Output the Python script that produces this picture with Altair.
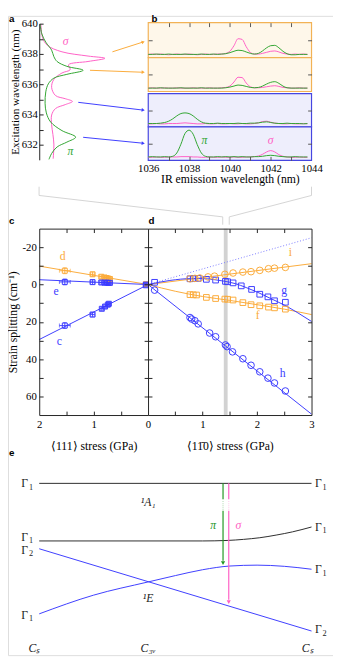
import math
import altair as alt
import pandas as pd

W, H, M = 333, 655, 8
SERIF = "Liberation Serif"
SANS = "Liberation Sans"
ORANGE = "#fbab3a"
BLUE = "#3c3cff"
PINK = "#ff5fc5"
GREEN = "#2fa52f"
DKGREEN = "#1f961f"
INK = "#222222"
ZOOMGRAY = "#d4d4d4"

# ---------------- panel a : excitation spectra ----------------
A_PINK_I = [1.7, 3.3, 8.3, 23.3, 50, 67.3, 50, 30, 31.7, 23.3, 15, 12.7, 16.7, 26.7, 34, 26.7, 16.7, 12.7, 12.7, 14, 15, 14.3]
A_PINK_L = [639.96, 639.10, 638.57, 638.14, 637.86, 637.71, 637.50, 637.28, 636.96, 636.74, 636.32, 635.79,
            635.25, 635.04, 634.86, 634.65, 634.39, 633.96, 633.32, 632.68, 632.04, 631.07]
A_GREEN_I = [1, 2.7, 6.7, 12.7, 15, 18.3, 28.3, 45, 28.3, 15, 9.3, 6.7, 6, 7.3, 11.7, 23.3, 37.3, 28.3, 18.3, 12.7, 10]
A_GREEN_L = [639.96, 639.32, 638.78, 638.25, 637.82, 637.50, 637.18, 636.92, 636.65, 636.40, 636.02, 635.49,
             634.74, 634.10, 633.50, 632.93, 632.50, 632.17, 631.85, 631.42, 631.03]
A_ARROW_I0 = [75, 52, 40, 45]
A_ARROW_L0 = [638.14, 636.92, 634.80, 632.49]
A_ARROW_I1 = [106, 106, 106, 106]
A_ARROW_L1 = [638.78, 636.79, 634.29, 632.10]
A_ARROW_COL = [ORANGE, ORANGE, BLUE, BLUE]

# ---------------- panel b : IR emission spectra ----------------
B_X = [1036.0, 1036.2, 1036.4, 1036.6, 1036.8, 1037.0, 1037.2, 1037.4, 1037.6, 1037.8,
       1038.0, 1038.2, 1038.4, 1038.6, 1038.8, 1039.0, 1039.2, 1039.4, 1039.6, 1039.8,
       1040.0, 1040.2, 1040.4, 1040.6, 1040.8, 1041.0, 1041.2, 1041.4, 1041.6, 1041.8,
       1042.0, 1042.2, 1042.4, 1042.6, 1042.8, 1043.0, 1043.2, 1043.4, 1043.6, 1043.8]
B1_PINK = [0.09, 0.10, 0.09, 0.10, 0.09, 0.08, 0.09, 0.10, 0.09, 0.09, 0.10, 0.09, 0.08, 0.09, 0.10, 0.09, 0.09, 0.10, 0.10,
           0.12, 0.18, 0.34, 0.54, 0.52, 0.31, 0.15, 0.10, 0.10, 0.12, 0.15, 0.18, 0.19, 0.16, 0.12, 0.10, 0.09, 0.10, 0.09, 0.10, 0.09]
B1_GREEN = [0.09, 0.09, 0.10, 0.09, 0.09, 0.10, 0.09, 0.09, 0.09, 0.10, 0.09, 0.09, 0.09, 0.10, 0.09, 0.09, 0.10, 0.09, 0.10,
            0.11, 0.14, 0.18, 0.21, 0.20, 0.16, 0.12, 0.10, 0.12, 0.19, 0.28, 0.34, 0.35, 0.28, 0.18, 0.11, 0.08, 0.08, 0.09, 0.09, 0.09]
B2_PINK = [0.10, 0.11, 0.10, 0.10, 0.11, 0.10, 0.10, 0.11, 0.10, 0.10, 0.10, 0.11, 0.10, 0.10, 0.10, 0.11, 0.10, 0.10, 0.11,
           0.12, 0.16, 0.28, 0.42, 0.41, 0.25, 0.14, 0.11, 0.11, 0.12, 0.14, 0.16, 0.17, 0.15, 0.12, 0.11, 0.10, 0.10, 0.11, 0.10, 0.10]
B2_GREEN = [0.10, 0.10, 0.10, 0.11, 0.10, 0.10, 0.10, 0.10, 0.11, 0.10, 0.10, 0.10, 0.10, 0.11, 0.10, 0.10, 0.10, 0.10, 0.10,
            0.11, 0.13, 0.16, 0.19, 0.18, 0.15, 0.12, 0.11, 0.12, 0.16, 0.22, 0.27, 0.29, 0.24, 0.16, 0.11, 0.10, 0.10, 0.10, 0.10, 0.10]
B3_PINK = [0.09, 0.09, 0.10, 0.09, 0.09, 0.10, 0.10, 0.10, 0.11, 0.12, 0.11, 0.10, 0.09, 0.09, 0.10, 0.09, 0.09, 0.10, 0.09, 0.09,
           0.10, 0.09, 0.09, 0.10, 0.09, 0.09, 0.10, 0.12, 0.16, 0.17, 0.14, 0.11, 0.10, 0.09, 0.09, 0.10, 0.09, 0.09, 0.10, 0.09]
B3_GREEN = [0.10, 0.10, 0.10, 0.11, 0.13, 0.17, 0.24, 0.33, 0.40, 0.42, 0.40, 0.33, 0.23, 0.15, 0.11,
            0.10, 0.10, 0.11, 0.10, 0.10, 0.10, 0.10, 0.11, 0.10, 0.10, 0.11, 0.11, 0.12, 0.14, 0.15,
            0.13, 0.11, 0.10, 0.10, 0.11, 0.10, 0.10, 0.10, 0.09, 0.10]
B4_PINK = [0.09, 0.09, 0.10, 0.09, 0.09, 0.10, 0.10, 0.10, 0.11, 0.11, 0.11, 0.10, 0.10, 0.09, 0.09, 0.10, 0.09, 0.09, 0.10, 0.09,
           0.09, 0.10, 0.09, 0.09, 0.10, 0.10, 0.11, 0.13, 0.18, 0.25, 0.29, 0.25, 0.17, 0.12, 0.10, 0.09, 0.09, 0.10, 0.09, 0.09]
B4_GREEN = [0.10, 0.11, 0.10, 0.10, 0.11, 0.10, 0.12, 0.22, 0.48, 0.80, 0.90, 0.78, 0.47, 0.22, 0.12, 0.10,
            0.10, 0.11, 0.10, 0.11, 0.10, 0.11, 0.10, 0.11, 0.10, 0.10, 0.11, 0.11, 0.12, 0.14, 0.15, 0.14, 0.12,
            0.11, 0.10, 0.10, 0.11, 0.10, 0.10, 0.10]

# ---------------- panel c : <111> stress ----------------
C_X = [1.53, 1.02, 0.86, 0.80, 0.76, 0.73, 0.70, 0.04]
C_XERR = [0.10, 0.04, 0.03, 0.03, 0.03, 0.03, 0.03, 0.02]
C_YERR = [1.6, 1.2, 1.0, 1.0, 1.0, 1.0, 1.0, 0.8]
C_D_Y = [-7.4, -5.5, -4.2, -3.8, -3.5, -3.2, -3.0, -0.2]
C_E_Y = [-1.4, -1.3, -1.1, -1.0, -1.0, -0.9, -0.9, 0.0]
C_C_X = [1.53, 1.02, 0.85, 0.79, 0.74, 0.72, 0.04]
C_C_Y = [22.0, 16.1, 13.0, 11.8, 10.8, 10.3, 0.4]
C_C_XERR = [0.10, 0.04, 0.03, 0.03, 0.03, 0.03, 0.02]
C_C_YERR = [1.6, 1.2, 1.0, 1.0, 1.0, 1.0, 0.8]
C_FIT_S = [0, 2]
C_FIT_D = [0, -9.9]
C_FIT_E = [0, -2.6]
C_FIT_C = [0, 29.5]

# ---------------- panel d : <1-10> stress ----------------
D_I_X = [0.77, 0.86, 0.95, 1.10, 1.22, 1.41, 1.56, 1.74, 1.89, 2.05, 2.21, 2.32, 2.52]
D_I_Y = [-3.1, -3.3, -3.5, -4.1, -4.5, -5.5, -6.2, -6.7, -6.9, -7.6, -8.5, -8.8, -9.2]
D_G_X = [0.12, 0.77, 0.83, 0.92, 1.07, 1.24, 1.42, 1.46, 1.56, 1.71, 1.90, 2.05, 2.20, 2.32, 2.52]
D_G_Y = [-1.2, -3.1, -3.2, -3.3, -2.8, -2.4, -1.7, -1.5, -0.9, 0.7, 2.6, 5.2, 6.6, 8.7, 9.5]
D_F_X = [0.77, 0.83, 0.89, 1.07, 1.24, 1.41, 1.46, 1.56, 1.74, 1.89, 2.05, 2.21, 2.32, 2.52]
D_F_Y = [5.4, 5.5, 5.6, 6.9, 7.5, 7.8, 7.9, 8.3, 9.7, 10.8, 11.4, 12.1, 12.5, 13.2]
D_H_X = [0.12, 0.77, 0.80, 0.86, 0.92, 1.13, 1.24, 1.42, 1.45, 1.55, 1.74, 1.89, 2.05, 2.20, 2.32, 2.52]
D_H_Y = [3.0, 17.7, 18.5, 19.4, 21.1, 26.0, 28.0, 32.4, 33.3, 36.1, 39.8, 43.3, 46.8, 50.2, 52.8, 57.1]
D_FIT_I_S = [0, 3]
D_FIT_I = [0, -11.2]
D_DOT_S = [0, 3]
D_DOT = [0, -25.1]
D_FIT_F_S = [0, 0.5, 1, 1.5, 2, 2.5, 3]
D_FIT_F = [0, 3.6, 6.4, 8.5, 10.8, 13.2, 16.1]
D_FIT_G_S = [0, 0.4, 0.8, 1.0, 1.2, 1.4, 1.6, 1.8, 2.0, 2.25, 2.5, 2.75, 3.0]
D_FIT_G = [0, -2.2, -3.2, -3.2, -2.7, -1.8, -0.5, 1.6, 4.0, 7.5, 11.0, 15.2, 19.8]
D_FIT_H_S = [0, 3]
D_FIT_H = [0, 69.5]
D_BAND = [1.39, 1.46]
D_ZOOM_L_S = [-2, -2, 1.37, 1.37]
D_ZOOM_R_S = [3, 3, 1.49, 1.49]
D_ZOOM_V = [-52.5, -47.8, -36.3, -32.1]

# ---------------- panel e : level diagram ----------------
E_TOP_S = [-2, 3]
E_TOP_E = [163, 163]
E_A1_S = [-2, 1.0, 1.45, 1.75, 2.05, 2.35, 2.65, 3.0]
E_A1_E = [104, 104, 104.5, 105.6, 107.3, 110, 113.3, 118.3]
E_G2_S = [-2, 3]
E_G2_E = [96, 11.7]
E_G1_S = [-2, -1, 0, 0.5, 1, 1.5, 2, 2.5, 3]
E_G1_E = [29.3, 48.5, 62, 68.5, 74.5, 78.3, 79.2, 78, 75]
E_ARROW_S = [1.375, 1.48]
E_ARROW_TOP = [163, 163]
E_ARROW_TIP = [78.3, 38.3]
E_ARROW_COL = [DKGREEN, PINK]
E_GAP = [147, 135]
E_GAMMA_SUB = ["1", "1", "2", "1", "1", "1", "1", "2"]
E_GAMMA_S = [-2.23, -2.23, -2.23, -2.23, 3.16, 3.16, 3.16, 3.16]
E_GAMMA_E = [163, 108, 95, 28.3, 163, 118.3, 75, 13.3]
E_ITAL_TEXT = ["¹A₁", "¹E", "Cₛ", "C₃ᵥ", "Cₛ", "π", "σ"]
E_ITAL_S = [0, 0, -2.09, 0, 2.93, 1.195, 1.656]
E_ITAL_E = [143.3, 45, -6, -6, -6, 120.7, 120.7]
E_ITAL_COL = [INK, INK, INK, INK, INK, DKGREEN, PINK]

# page mapping for panel e (page y = E_Y0 - E_K * energy)
E_Y0, E_K = 650.0, 1.0


# ---------------- helpers ----------------
def R(a, b):
    return [a - M, b - M]


def lin(domain, rng):
    return alt.Scale(domain=domain, range=rng, nice=False, zero=False)


def pos(xf, yf, xs, ys, xaxis=None, yaxis=None):
    return dict(x=alt.X(f"{xf}:Q", scale=xs, axis=xaxis), y=alt.Y(f"{yf}:Q", scale=ys, axis=yaxis))


BASE_AX = dict(grid=False, zindex=3, domainColor=INK, tickColor=INK, domainWidth=1, tickWidth=1,
               labelColor="black", labelFont=SERIF, labelFontSize=11, labelOverlap=False, labelFlush=False,
               labelExpr="datum.value",
               titleFont=SERIF, titleFontSize=12, titleFontWeight="normal", titleColor="black")


def axis(orient, at, **kw):
    p = at - M
    off = {"left": -p, "right": p - W, "top": -p, "bottom": p - H}[orient]
    d = dict(BASE_AX, orient=orient, offset=off, labels=False, domain=False, ticks=True, tickSize=4, title=None)
    d.update(kw)
    return alt.Axis(**d)


def axes_layer(xs, ys, xdom, ydom, xaxis=None, yaxis=None):
    df = pd.DataFrame({"x": xdom, "y": ydom})
    return alt.Chart(df).mark_point(opacity=0, size=1).encode(**pos("x", "y", xs, ys, xaxis, yaxis))


def text_layer(df, xs, ys, size=12, style="normal", font=SERIF, weight="normal", align="center", dx=0, dy=0):
    return alt.Chart(df).mark_text(font=font, fontSize=size, fontStyle=style, fontWeight=weight,
                                   align=align, baseline="middle", dx=dx, dy=dy).encode(
        **pos("x", "y", xs, ys), text="t:N", color=alt.Color("c:N", scale=None))


def angle_of(dx_px, dy_px):
    return math.degrees(math.atan2(dx_px, -dy_px)) % 360


# ---------------- panel a ----------------
xa = lin([0, 100], R(40, 140))
ya = lin([631, 640], R(155.5, 16))
pxa, pya = 1.0, 15.5
a_pink = alt.Chart(pd.DataFrame({"i": A_PINK_I, "l": A_PINK_L, "k": list(range(len(A_PINK_I)))})).mark_line(
    color=PINK, strokeWidth=1, interpolate="catmull-rom").encode(**pos("i", "l", xa, ya), order="k:Q")
a_green = alt.Chart(pd.DataFrame({"i": A_GREEN_I, "l": A_GREEN_L, "k": list(range(len(A_GREEN_I)))})).mark_line(
    color=GREEN, strokeWidth=1, interpolate="catmull-rom").encode(**pos("i", "l", xa, ya), order="k:Q")
arr = pd.DataFrame({"x": A_ARROW_I0, "y": A_ARROW_L0, "x2": A_ARROW_I1, "y2": A_ARROW_L1, "c": A_ARROW_COL})
arr["ang"] = [angle_of((r.x2 - r.x) * pxa, -(r.y2 - r.y) * pya) for r in arr.itertuples()]
a_arrows = alt.Chart(arr).mark_rule(strokeWidth=1).encode(
    **pos("x", "y", xa, ya), x2="x2:Q", y2="y2:Q", color=alt.Color("c:N", scale=None))
a_heads = alt.Chart(arr).mark_point(shape="triangle", filled=True, size=14, opacity=1).encode(
    **pos("x2", "y2", xa, ya), angle=alt.Angle("ang:Q", scale=None), color=alt.Color("c:N", scale=None))
a_lab = text_layer(pd.DataFrame({"x": [27, 32], "y": [638.84, 631.61], "t": ["σ", "π"], "c": [PINK, GREEN]}),
                   xa, ya, size=12, style="italic")
a_letter = text_layer(pd.DataFrame({"x": [-31], "y": [640.3], "t": ["a"], "c": ["black"]}), xa, ya,
                      size=10, font=SANS, weight="bold", align="left")
a_ax1 = axes_layer(xa, ya, [0, 100], [631, 640], None,
                   axis("left", 40, values=[632, 634, 636, 638, 640], labels=True, domain=True, ticks=False,
                        tickSize=0, labelPadding=2, title="Excitation wavelength (nm)", titlePadding=1,
                        titleFontSize=11.5))
a_ax2 = axes_layer(xa, ya, [0, 100], [631, 640], None,
                   axis("right", 40, values=[632, 633, 634, 635, 636, 637, 638, 639, 640]))
panel_a = alt.layer(a_arrows, a_heads, a_pink, a_green, a_lab, a_letter, a_ax1, a_ax2).resolve_axis(
    x="independent", y="independent")


# ---------------- panel b ----------------
def b_panel(pink, green, top, bot, edge, fill, kind):
    xs = lin([1036, 1044], R(151.7, 319))
    ys = lin([0, 1], R(bot, top))
    frame = alt.Chart(pd.DataFrame({"x": [1036], "x2": [1044], "y": [0], "y2": [1]})).mark_rect(
        fill=fill, stroke=edge, strokeWidth=1.2).encode(**pos("x", "y", xs, ys), x2="x2:Q", y2="y2:Q")
    df = pd.DataFrame({"w": B_X, "p": pink, "g": green})
    lp = alt.Chart(df).mark_line(color=PINK, strokeWidth=1, interpolate="monotone").encode(**pos("w", "p", xs, ys))
    lg = alt.Chart(df).mark_line(color=GREEN, strokeWidth=1, interpolate="monotone").encode(**pos("w", "g", xs, ys))
    minor = [1037, 1038, 1039, 1040, 1041, 1042, 1043]
    xa1, xa2 = None, None
    if kind == "top":
        xa1 = axis("bottom", top, values=minor, tickColor="#555")
    if kind == "bottom":
        xa1 = axis("bottom", bot, values=[1036, 1038, 1040, 1042, 1044], labels=True, ticks=False, tickSize=0,
                   labelPadding=2, title="IR emission wavelength (nm)", titlePadding=1)
        xa2 = axis("top", bot, values=minor, tickColor="#555")
    ax1 = axes_layer(xs, ys, [1036, 1044], [0, 1], xa1, axis("right", 151.7, values=[0.5], tickColor="#555"))
    ax2 = axes_layer(xs, ys, [1036, 1044], [0, 1], xa2, axis("left", 319, values=[0.5], tickColor="#555"))
    layers = [frame, lp, lg]
    if kind == "top":
        layers.append(text_layer(pd.DataFrame({"x": [1036.16], "y": [1.11], "t": ["b"], "c": ["black"]}),
                                 xs, ys, size=10, font=SANS, weight="bold", align="left"))
    if kind == "bottom":
        layers.append(text_layer(pd.DataFrame({"x": [1038.75, 1042.0], "y": [0.6, 0.6], "t": ["π", "σ"],
                                               "c": [GREEN, PINK]}), xs, ys, size=12, style="italic"))
    layers += [ax1, ax2]
    return alt.layer(*layers).resolve_axis(x="independent", y="independent")


OR_EDGE, OR_FILL = "#f2b255", "#fef7ea"
BL_EDGE, BL_FILL = "#4646e0", "#eeeefc"
panel_b1 = b_panel(B1_PINK, B1_GREEN, 15, 50.7, OR_EDGE, OR_FILL, "top")
panel_b2 = b_panel(B2_PINK, B2_GREEN, 50.7, 85.5, OR_EDGE, OR_FILL, "mid")
panel_b3 = b_panel(B3_PINK, B3_GREEN, 87.7, 121.7, BL_EDGE, BL_FILL, "mid")
panel_b4 = b_panel(B4_PINK, B4_GREEN, 121.7, 156, BL_EDGE, BL_FILL, "bottom")

# ---------------- panels c & d shared ----------------
YCD = lin([-30, 70], R(226, 417))
Y_TICKS = [-20, -10, 0, 10, 20, 30, 40, 50, 60]


def err_table(x, y, xe, ye, color):
    df = pd.DataFrame({"x": x, "y": y, "xe": xe, "ye": ye})
    df["xlo"], df["xhi"] = df.x - df.xe, df.x + df.xe
    df["ylo"], df["yhi"] = df.y - df.ye, df.y + df.ye
    df["c"] = color
    return df


# ---------------- panel c ----------------
xc = lin([0, 2], R(151.5, 40))
cdf = pd.concat([
    err_table(C_X, C_D_Y, C_XERR, C_YERR, ORANGE),
    err_table(C_X, C_E_Y, C_XERR, C_YERR, BLUE),
    err_table(C_C_X, C_C_Y, C_C_XERR, C_C_YERR, BLUE),
], ignore_index=True)
c_fit = pd.DataFrame({
    "s": C_FIT_S * 3, "v": C_FIT_D + C_FIT_E + C_FIT_C,
    "id": ["d", "d", "e", "e", "c", "c"], "c": [ORANGE, ORANGE, BLUE, BLUE, BLUE, BLUE]})
c_lines = alt.Chart(c_fit).mark_line(strokeWidth=1).encode(
    **pos("s", "v", xc, YCD), detail="id:N", color=alt.Color("c:N", scale=None))
c_hbar = alt.Chart(cdf).mark_rule(strokeWidth=0.9).encode(
    **pos("xlo", "y", xc, YCD), x2="xhi:Q", color=alt.Color("c:N", scale=None))
c_vbar = alt.Chart(cdf).mark_rule(strokeWidth=0.9).encode(
    **pos("x", "ylo", xc, YCD), y2="yhi:Q", color=alt.Color("c:N", scale=None))
capv = pd.concat([cdf[["xlo", "y", "c"]].rename(columns={"xlo": "x"}),
                  cdf[["xhi", "y", "c"]].rename(columns={"xhi": "x"})], ignore_index=True)
caph = pd.concat([cdf[["x", "ylo", "c"]].rename(columns={"ylo": "y"}),
                  cdf[["x", "yhi", "c"]].rename(columns={"yhi": "y"})], ignore_index=True)
c_capv = alt.Chart(capv).mark_tick(orient="vertical", size=4, thickness=0.9).encode(
    **pos("x", "y", xc, YCD), color=alt.Color("c:N", scale=None))
c_caph = alt.Chart(caph).mark_tick(orient="horizontal", size=4, thickness=0.9).encode(
    **pos("x", "y", xc, YCD), color=alt.Color("c:N", scale=None))
c_pts = alt.Chart(cdf).mark_point(shape="square", filled=False, size=26, strokeWidth=1, opacity=1).encode(
    **pos("x", "y", xc, YCD), color=alt.Color("c:N", scale=None))
c_lab = text_layer(pd.DataFrame({"x": [1.57, 1.69, 1.63], "y": [-15.2, 3.5, 30.3], "t": ["d", "e", "c"],
                                 "c": [ORANGE, BLUE, BLUE]}), xc, YCD, size=12)
c_letter = text_layer(pd.DataFrame({"x": [2.555], "y": [-33.8], "t": ["c"], "c": ["black"]}), xc, YCD,
                      size=10, font=SANS, weight="bold", align="left")
c_ax1 = axes_layer(xc, YCD, [0, 2], [-30, 70],
                   axis("bottom", 417, values=[0, 1, 2], labels=True, domain=True, ticks=False, tickSize=0,
                        labelPadding=4, title="⟨111⟩ stress (GPa)", titlePadding=11),
                   axis("left", 40, values=[-20, 0, 20, 40, 60], labels=True, domain=True, ticks=False,
                        tickSize=0, labelPadding=3,
                        title="Strain splitting (cm⁻¹)", titlePadding=3))
c_ax2 = axes_layer(xc, YCD, [0, 2], [-30, 70],
                   axis("top", 417, values=[0.5, 1, 1.5]),
                   axis("right", 40, values=Y_TICKS))
c_ax3 = axes_layer(xc, YCD, [0, 2], [-30, 70],
                   axis("bottom", 226, values=[0.5, 1, 1.5], domain=True),
                   axis("left", 151.5, values=Y_TICKS, domain=True))
panel_c = alt.layer(c_lines, c_hbar, c_vbar, c_capv, c_caph, c_pts, c_lab, c_letter, c_ax1, c_ax2, c_ax3
                    ).resolve_axis(x="independent", y="independent")

# ---------------- panel d ----------------
xd = lin([0, 3], R(151.5, 319))
d_band = alt.Chart(pd.DataFrame({"x": [D_BAND[0]], "x2": [D_BAND[1]], "y": [-30], "y2": [70]})).mark_rect(
    fill="#d2d2d2").encode(**pos("x", "y", xd, YCD), x2="x2:Q", y2="y2:Q")
zoom_df = pd.DataFrame({"s": D_ZOOM_L_S + D_ZOOM_R_S, "v": D_ZOOM_V + D_ZOOM_V,
                        "id": ["L"] * 4 + ["R"] * 4, "k": [0, 1, 2, 3] * 2})
d_zoom = alt.Chart(zoom_df).mark_line(color=ZOOMGRAY, strokeWidth=1).encode(
    **pos("s", "v", xd, YCD), detail="id:N", order="k:Q")
d_fit = pd.DataFrame({
    "s": D_FIT_I_S + D_FIT_F_S + D_FIT_G_S + D_FIT_H_S,
    "v": D_FIT_I + D_FIT_F + D_FIT_G + D_FIT_H,
    "id": ["i"] * len(D_FIT_I_S) + ["f"] * len(D_FIT_F_S) + ["g"] * len(D_FIT_G_S) + ["h"] * len(D_FIT_H_S),
    "c": [ORANGE] * len(D_FIT_I_S) + [ORANGE] * len(D_FIT_F_S) + [BLUE] * len(D_FIT_G_S) + [BLUE] * len(D_FIT_H_S)})
d_lines = alt.Chart(d_fit).mark_line(strokeWidth=1, interpolate="monotone").encode(
    **pos("s", "v", xd, YCD), detail="id:N", color=alt.Color("c:N", scale=None))
d_dot = alt.Chart(pd.DataFrame({"s": D_DOT_S, "v": D_DOT})).mark_line(
    color="#7a7aff", strokeWidth=1, strokeDash=[1, 2]).encode(**pos("s", "v", xd, YCD))
sq = pd.DataFrame({"x": D_G_X + D_F_X, "y": D_G_Y + D_F_Y, "c": [BLUE] * len(D_G_X) + [ORANGE] * len(D_F_X)})
ci = pd.DataFrame({"x": D_I_X + D_H_X, "y": D_I_Y + D_H_Y, "c": [ORANGE] * len(D_I_X) + [BLUE] * len(D_H_X)})
d_sq = alt.Chart(sq).mark_point(shape="square", filled=False, size=34, strokeWidth=1, opacity=1).encode(
    **pos("x", "y", xd, YCD), color=alt.Color("c:N", scale=None))
d_ci = alt.Chart(ci).mark_point(shape="circle", filled=False, size=46, strokeWidth=1, opacity=1).encode(
    **pos("x", "y", xd, YCD), color=alt.Color("c:N", scale=None))
d_lab = text_layer(pd.DataFrame({"x": [2.61, 2.5, 2.01, 2.47], "y": [-17.3, 3.1, 16.5, 47.6],
                                 "t": ["i", "g", "f", "h"], "c": [ORANGE, BLUE, ORANGE, BLUE]}), xd, YCD, size=12)
d_letter = text_layer(pd.DataFrame({"x": [0.01], "y": [-33.8], "t": ["d"], "c": ["black"]}), xd, YCD,
                      size=10, font=SANS, weight="bold", align="left")
d_ax1 = axes_layer(xd, YCD, [0, 3], [-30, 70],
                   axis("bottom", 417, values=[1, 2, 3], labels=True, domain=True, ticks=False, tickSize=0,
                        labelPadding=4, title="⟨11̄0⟩ stress (GPa)", titlePadding=11),
                   axis("right", 151.5, values=Y_TICKS))
d_ax2 = axes_layer(xd, YCD, [0, 3], [-30, 70],
                   axis("top", 417, values=[0.5, 1, 1.5, 2, 2.5]),
                   axis("left", 319, values=Y_TICKS, domain=True))
d_ax3 = axes_layer(xd, YCD, [0, 3], [-30, 70],
                   axis("bottom", 226, values=[0.5, 1, 1.5, 2, 2.5], domain=True), None)
panel_d = alt.layer(d_band, d_zoom, d_dot, d_lines, d_sq, d_ci, d_lab, d_letter, d_ax1, d_ax2, d_ax3
                    ).resolve_axis(x="independent", y="independent")

# ---------------- panel e ----------------
xe = lin([-2, 3], R(40, 319))
ye = lin([0, 200], R(E_Y0, E_Y0 - E_K * 200))
e_black = pd.DataFrame({"s": E_TOP_S + E_A1_S, "v": E_TOP_E + E_A1_E,
                        "id": ["t"] * len(E_TOP_S) + ["a"] * len(E_A1_S)})
e_blue = pd.DataFrame({"s": E_G2_S + E_G1_S, "v": E_G2_E + E_G1_E,
                       "id": ["g2"] * len(E_G2_S) + ["g1"] * len(E_G1_S)})
e_l1 = alt.Chart(e_black).mark_line(color="#2a2a2a", strokeWidth=1, interpolate="monotone").encode(
    **pos("s", "v", xe, ye), detail="id:N")
e_l2 = alt.Chart(e_blue).mark_line(color=BLUE, strokeWidth=1, interpolate="monotone").encode(
    **pos("s", "v", xe, ye), detail="id:N")
ea = pd.DataFrame({"s": E_ARROW_S, "top": E_ARROW_TOP, "tip": E_ARROW_TIP, "c": E_ARROW_COL,
                   "g1": [E_GAP[0]] * 2, "g2": [E_GAP[1]] * 2})
ea["base"] = ea.tip + 5.5 / E_K
ea["head"] = ea.tip + 3.0 / E_K
e_sh1 = alt.Chart(ea).mark_rule(strokeWidth=1.2).encode(
    **pos("s", "top", xe, ye), y2="g1:Q", color=alt.Color("c:N", scale=None))
e_sh2 = alt.Chart(ea).mark_rule(strokeWidth=1.2, opacity=0.3, strokeDash=[1, 1]).encode(
    **pos("s", "g1", xe, ye), y2="g2:Q", color=alt.Color("c:N", scale=None))
e_sh3 = alt.Chart(ea).mark_rule(strokeWidth=1.2).encode(
    **pos("s", "g2", xe, ye), y2="base:Q", color=alt.Color("c:N", scale=None))
e_head = alt.Chart(ea).mark_point(shape="triangle-down", filled=True, size=18, opacity=1).encode(
    **pos("s", "head", xe, ye), color=alt.Color("c:N", scale=None))
gam = pd.DataFrame({"x": E_GAMMA_S, "y": E_GAMMA_E, "t": ["Γ"] * len(E_GAMMA_S), "c": [INK] * len(E_GAMMA_S)})
gsub = pd.DataFrame({"x": E_GAMMA_S, "y": E_GAMMA_E, "t": E_GAMMA_SUB, "c": [INK] * len(E_GAMMA_S)})
e_gam = text_layer(gam, xe, ye, size=12, dx=-2)
e_gsub = text_layer(gsub, xe, ye, size=8.5, dx=4.5, dy=3.5)
e_ital = text_layer(pd.DataFrame({"x": E_ITAL_S, "y": E_ITAL_E, "t": E_ITAL_TEXT, "c": E_ITAL_COL}),
                    xe, ye, size=12, style="italic")
e_letter = text_layer(pd.DataFrame({"x": [-2.556], "y": [(E_Y0 - 456) / E_K], "t": ["e"], "c": ["black"]}),
                      xe, ye, size=10, font=SANS, weight="bold", align="left")
panel_e = alt.layer(e_l1, e_l2, e_sh1, e_sh2, e_sh3, e_head, e_gam, e_gsub, e_ital, e_letter)

chart = alt.layer(panel_a, panel_b1, panel_b2, panel_b3, panel_b4, panel_c, panel_d, panel_e).resolve_scale(
    x="independent", y="independent").properties(
    width=W, height=H, padding=0, autosize=alt.AutoSizeParams(type="none")
).configure_view(stroke=None).configure(font=SERIF, background="white")

chart.save("out.html", embed_options={"renderer": "svg", "actions": False})
